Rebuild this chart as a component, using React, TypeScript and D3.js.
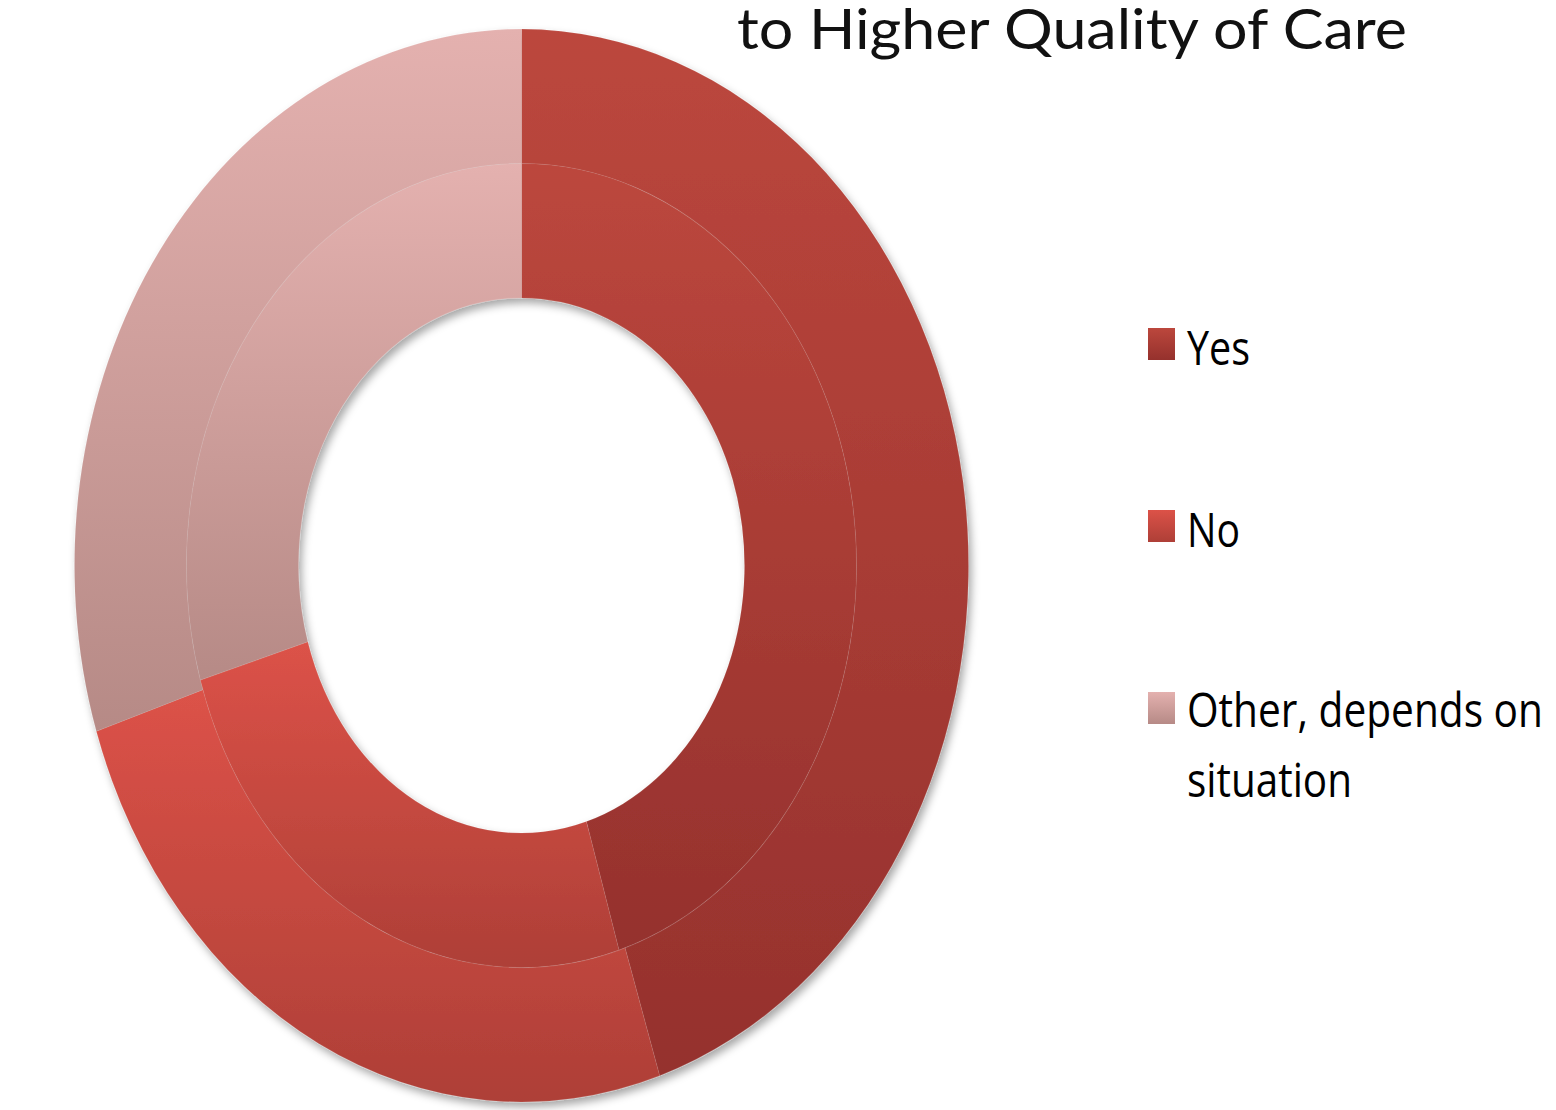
import React from "react";
import * as d3 from "d3";

const categories = ["Yes", "No", "Other, depends on situation"];
const outerValues = [45, 25, 30];
const innerValues = [45.3, 25.1, 29.6];
const legendLines = [["Yes"], ["No"], ["Other, depends on", "situation"]];
const titleText = "to Higher Quality of Care";
const topColors = ["#BC473D", "#DC5248", "#E4B1AF"];
const bottomColors = ["#95312D", "#AE3F37", "#B68A86"];

const W = 1556;
const H = 1110;
const cx = 521.5;
const cy = 565.5;
const sy = 1.2;
const rOuter = 447;
const rMid = 335;
const rHole = 223;

export default function App() {
  const pie = d3
    .pie<number>()
    .sort(null)
    .value((d) => d)
    .startAngle(0)
    .endAngle(2 * Math.PI);
  const outerArc = d3.arc<d3.PieArcDatum<number>>().innerRadius(rMid).outerRadius(rOuter);
  const innerArc = d3.arc<d3.PieArcDatum<number>>().innerRadius(rHole).outerRadius(rMid);
  const outerArcs = pie(outerValues);
  const innerArcs = pie(innerValues);

  const legendX = 1187;
  const legendBaselines = [[365], [547], [727, 797]];
  const legendWidths = [[63], [53], [356, 165]];
  const swatchTops = [328, 510, 692];

  return (
    <svg
      width={W}
      height={H}
      style={{ position: "absolute", left: 0, top: 0, display: "block", background: "#fff" }}
    >
      <defs>
        {categories.map((c, i) => (
          <linearGradient key={c} id={`grad${i}`} x1="0" y1="0" x2="0" y2="1">
            <stop offset="0%" stopColor={topColors[i]} />
            <stop offset="100%" stopColor={bottomColors[i]} />
          </linearGradient>
        ))}
        <filter id="shadow" x="-10%" y="-10%" width="125%" height="125%">
          <feGaussianBlur in="SourceAlpha" stdDeviation="4" />
          <feOffset dx="3" dy="5" result="ob" />
          <feFlood floodColor="#000" floodOpacity="0.35" />
          <feComposite in2="ob" operator="in" />
          <feMerge>
            <feMergeNode />
            <feMergeNode in="SourceGraphic" />
          </feMerge>
        </filter>
      </defs>

      <text
        transform={`translate(737,49) scale(1,${sy})`}
        fontFamily="Lato, 'Open Sans', sans-serif"
        fontSize={46}
        fill="#111"
        textLength={670}
        lengthAdjust="spacingAndGlyphs"
      >
        {titleText}
      </text>

      <g filter="url(#shadow)">
        <g transform={`translate(${cx},${cy}) scale(1,${sy})`}>
          {outerArcs.map((a, i) => (
            <path
              key={`o${i}`}
              d={outerArc(a) || ""}
              fill={`url(#grad${i})`}
              stroke="rgba(255,255,255,0.08)"
              strokeWidth={1}
            />
          ))}
          {innerArcs.map((a, i) => (
            <path
              key={`i${i}`}
              d={innerArc(a) || ""}
              fill={`url(#grad${i})`}
              stroke="rgba(255,255,255,0.08)"
              strokeWidth={1}
            />
          ))}
        </g>
      </g>

      {categories.map((c, i) => (
        <g key={`lg${c}`}>
          <rect x={1148} y={swatchTops[i]} width={27} height={32} fill={`url(#grad${i})`} />
          {legendLines[i].map((line, j) => (
            <text
              key={line}
              transform={`translate(${legendX},${legendBaselines[i][j]}) scale(1,${sy})`}
              fontFamily="'Liberation Sans Narrow', 'Open Sans', sans-serif"
              fontSize={39}
              fill="#000"
              textLength={legendWidths[i][j]}
              lengthAdjust="spacingAndGlyphs"
            >
              {line}
            </text>
          ))}
        </g>
      ))}
    </svg>
  );
}
